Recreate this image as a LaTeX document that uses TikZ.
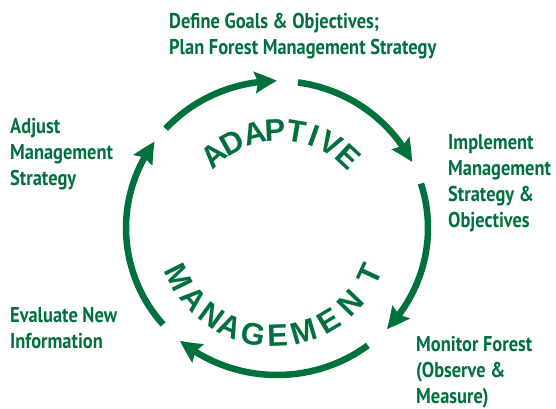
\documentclass[tikz,border=0pt]{standalone}
\usepackage{fontspec}
\newfontfamily\lblfont{PT Sans}[FakeStretch=0.86]
\newfontfamily\arcfont{Liberation Sans}
\usetikzlibrary{arrows.meta,bending}
\definecolor{fgreen}{RGB}{0,112,60}
\begin{document}
\begin{tikzpicture}[x=1pt,y=-1pt,
  lbl/.style={font={\lblfont\bfseries\fontsize{21.4}{26}\selectfont}, text=fgreen, anchor=base west, inner sep=0pt},
  cyc/.style={draw=fgreen, line width=6.5pt, -{Stealth[length=22pt,width=21pt,inset=3pt,bend]}},
  ltr/.style={font={\arcfont\bfseries\fontsize{31}{31}\selectfont}, text=fgreen, inner sep=0pt}]
\useasboundingbox[fill=white] (0,0) rectangle (556,408);

% cycle arcs
\foreach \s/\e [count=\i] in {137.5/90, 82/26.6, 17.6/-43.4, -53/-130, -139/-216}{
  \coordinate (s\i) at ({277+151*cos(\s)},{228-147*sin(\s)});
  \draw[cyc] (s\i) arc[start angle={0-(\s)}, end angle={0-(\e)}, x radius=151, y radius=147];
}

% curved words
\foreach \c/\a [count=\i] in {A/131.8,D/118.9,A/104.7,P/92.9,T/80.2,I/70.3,V/59.5,E/47.0}
  \node[ltr, rotate=\a-90] (ad\i) at ({280+100*cos(\a)},{230-100*sin(\a)}) {\c};
\foreach \c/\a [count=\i] in {M/206.4,A/220.9,N/233.8,A/245.7,G/258.9,E/271.9,M/286.4,E/301,N/316.2,T/335.2}
  \node[ltr, rotate=\a+90] (mg\i) at ({274+106*cos(\a)},{230-106*sin(\a)}) {\c};

% labels
\node[lbl] (goal) at (169,28) {\begin{tabular}[t]{@{}l@{}}Define Goals \& Objectives;\\Plan Forest Management Strategy\end{tabular}};
\node[lbl] (impl) at (448,149) {\begin{tabular}[t]{@{}l@{}}Implement\\Management\\Strategy \&\\Objectives\end{tabular}};
\node[lbl] (moni) at (416,351) {\begin{tabular}[t]{@{}l@{}}Monitor Forest\\(Observe \&\\Measure)\end{tabular}};
\node[lbl] (eval) at (10,322) {\begin{tabular}[t]{@{}l@{}}Evaluate New\\Information\end{tabular}};
\node[lbl] (adj) at (10,133) {\begin{tabular}[t]{@{}l@{}}Adjust\\Management\\Strategy\end{tabular}};
\end{tikzpicture}
\end{document}
